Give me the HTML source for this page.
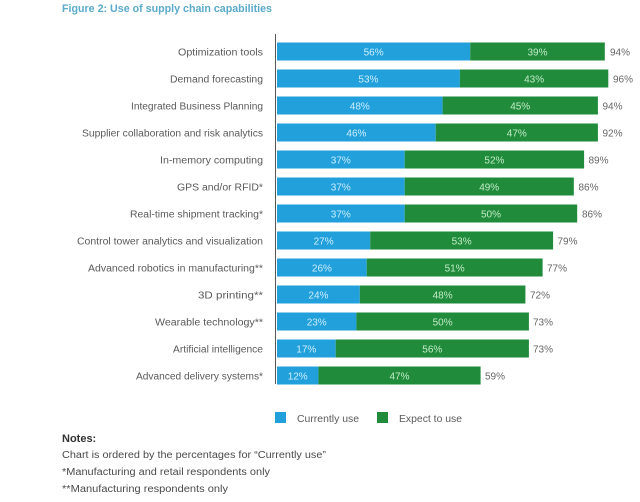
<!DOCTYPE html>
<html><head><meta charset="utf-8"><style>
html,body{margin:0;padding:0;background:#fff;}
svg{display:block;font-family:"Liberation Sans",sans-serif;}
</style></head><body>
<svg width="640" height="502" viewBox="0 0 640 502" xmlns="http://www.w3.org/2000/svg">
<rect width="640" height="502" fill="#fff"/>
<text x="62" y="12" font-size="11" font-weight="bold" fill="#5aaac9" textLength="210" lengthAdjust="spacingAndGlyphs">Figure 2: Use of supply chain capabilities</text>
<line x1="275.5" y1="34" x2="275.5" y2="384" stroke="#555" stroke-width="1"/>
<rect x="275" y="412" width="11" height="11" fill="#22a0dc"/>
<text x="297" y="422" font-size="10" fill="#5a5a5a" textLength="62" lengthAdjust="spacingAndGlyphs">Currently use</text>
<rect x="377" y="412" width="11" height="11" fill="#1f8b3b"/>
<text x="399" y="422" font-size="10" fill="#5a5a5a" textLength="63" lengthAdjust="spacingAndGlyphs">Expect to use</text>
<text x="62" y="442" font-size="11" font-weight="bold" fill="#333">Notes:</text>
<text x="62" y="458" font-size="10" fill="#4a4a4a" textLength="264" lengthAdjust="spacingAndGlyphs">Chart is ordered by the percentages for “Currently use”</text>
<text x="62" y="475" font-size="10" fill="#4a4a4a" textLength="208" lengthAdjust="spacingAndGlyphs">*Manufacturing and retail respondents only</text>
<text x="62" y="492" font-size="10" fill="#4a4a4a" textLength="166" lengthAdjust="spacingAndGlyphs">**Manufacturing respondents only</text>
<g font-size="10">
<text x="263" y="55.5" text-anchor="end" fill="#5a5a5a" textLength="85" lengthAdjust="spacingAndGlyphs">Optimization tools</text>
<rect x="277" y="42.5" width="193.2" height="18" fill="#22a0dc"/><rect x="470.2" y="42.5" width="134.6" height="18" fill="#1f8b3b"/>
<text x="373.6" y="55.5" text-anchor="middle" fill="#cdeefc">56%</text><text x="537.5" y="55.5" text-anchor="middle" fill="#c4ecc8">39%</text><text x="610" y="55.5" fill="#666">94%</text>

<text x="263" y="82.5" text-anchor="end" fill="#5a5a5a" textLength="93" lengthAdjust="spacingAndGlyphs">Demand forecasting</text>
<rect x="277" y="69.5" width="182.9" height="18" fill="#22a0dc"/><rect x="459.9" y="69.5" width="148.4" height="18" fill="#1f8b3b"/>
<text x="368.4" y="82.5" text-anchor="middle" fill="#cdeefc">53%</text><text x="534.1" y="82.5" text-anchor="middle" fill="#c4ecc8">43%</text><text x="613" y="82.5" fill="#666">96%</text>

<text x="263" y="109.5" text-anchor="end" fill="#5a5a5a" textLength="132" lengthAdjust="spacingAndGlyphs">Integrated Business Planning</text>
<rect x="277" y="96.5" width="165.6" height="18" fill="#22a0dc"/><rect x="442.6" y="96.5" width="155.3" height="18" fill="#1f8b3b"/>
<text x="359.8" y="109.5" text-anchor="middle" fill="#cdeefc">48%</text><text x="520.2" y="109.5" text-anchor="middle" fill="#c4ecc8">45%</text><text x="602.5" y="109.5" fill="#666">94%</text>

<text x="263" y="136.5" text-anchor="end" fill="#5a5a5a" textLength="181" lengthAdjust="spacingAndGlyphs">Supplier collaboration and risk analytics</text>
<rect x="277" y="123.5" width="158.7" height="18" fill="#22a0dc"/><rect x="435.7" y="123.5" width="162.2" height="18" fill="#1f8b3b"/>
<text x="356.4" y="136.5" text-anchor="middle" fill="#cdeefc">46%</text><text x="516.8" y="136.5" text-anchor="middle" fill="#c4ecc8">47%</text><text x="602.5" y="136.5" fill="#666">92%</text>

<text x="263" y="163.5" text-anchor="end" fill="#5a5a5a" textLength="103" lengthAdjust="spacingAndGlyphs">In-memory computing</text>
<rect x="277" y="150.5" width="127.7" height="18" fill="#22a0dc"/><rect x="404.7" y="150.5" width="179.4" height="18" fill="#1f8b3b"/>
<text x="340.8" y="163.5" text-anchor="middle" fill="#cdeefc">37%</text><text x="494.4" y="163.5" text-anchor="middle" fill="#c4ecc8">52%</text><text x="588.5" y="163.5" fill="#666">89%</text>

<text x="263" y="190.5" text-anchor="end" fill="#5a5a5a" textLength="86" lengthAdjust="spacingAndGlyphs">GPS and/or RFID*</text>
<rect x="277" y="177.5" width="127.7" height="18" fill="#22a0dc"/><rect x="404.7" y="177.5" width="169.1" height="18" fill="#1f8b3b"/>
<text x="340.8" y="190.5" text-anchor="middle" fill="#cdeefc">37%</text><text x="489.2" y="190.5" text-anchor="middle" fill="#c4ecc8">49%</text><text x="578.5" y="190.5" fill="#666">86%</text>

<text x="263" y="217.5" text-anchor="end" fill="#5a5a5a" textLength="133" lengthAdjust="spacingAndGlyphs">Real-time shipment tracking*</text>
<rect x="277" y="204.5" width="127.7" height="18" fill="#22a0dc"/><rect x="404.7" y="204.5" width="172.5" height="18" fill="#1f8b3b"/>
<text x="340.8" y="217.5" text-anchor="middle" fill="#cdeefc">37%</text><text x="491" y="217.5" text-anchor="middle" fill="#c4ecc8">50%</text><text x="582" y="217.5" fill="#666">86%</text>

<text x="263" y="244.5" text-anchor="end" fill="#5a5a5a" textLength="186" lengthAdjust="spacingAndGlyphs">Control tower analytics and visualization</text>
<rect x="277" y="231.5" width="93.2" height="18" fill="#22a0dc"/><rect x="370.2" y="231.5" width="182.9" height="18" fill="#1f8b3b"/>
<text x="323.6" y="244.5" text-anchor="middle" fill="#cdeefc">27%</text><text x="461.6" y="244.5" text-anchor="middle" fill="#c4ecc8">53%</text><text x="557.5" y="244.5" fill="#666">79%</text>

<text x="263" y="271.5" text-anchor="end" fill="#5a5a5a" textLength="175" lengthAdjust="spacingAndGlyphs">Advanced robotics in manufacturing**</text>
<rect x="277" y="258.5" width="89.7" height="18" fill="#22a0dc"/><rect x="366.7" y="258.5" width="175.9" height="18" fill="#1f8b3b"/>
<text x="321.9" y="271.5" text-anchor="middle" fill="#cdeefc">26%</text><text x="454.6" y="271.5" text-anchor="middle" fill="#c4ecc8">51%</text><text x="547" y="271.5" fill="#666">77%</text>

<text x="263" y="298.5" text-anchor="end" fill="#5a5a5a" textLength="65" lengthAdjust="spacingAndGlyphs">3D printing**</text>
<rect x="277" y="285.5" width="82.8" height="18" fill="#22a0dc"/><rect x="359.8" y="285.5" width="165.6" height="18" fill="#1f8b3b"/>
<text x="318.4" y="298.5" text-anchor="middle" fill="#cdeefc">24%</text><text x="442.6" y="298.5" text-anchor="middle" fill="#c4ecc8">48%</text><text x="530" y="298.5" fill="#666">72%</text>

<text x="263" y="325.5" text-anchor="end" fill="#5a5a5a" textLength="108" lengthAdjust="spacingAndGlyphs">Wearable technology**</text>
<rect x="277" y="312.5" width="79.4" height="18" fill="#22a0dc"/><rect x="356.4" y="312.5" width="172.5" height="18" fill="#1f8b3b"/>
<text x="316.7" y="325.5" text-anchor="middle" fill="#cdeefc">23%</text><text x="442.6" y="325.5" text-anchor="middle" fill="#c4ecc8">50%</text><text x="533" y="325.5" fill="#666">73%</text>

<text x="263" y="352.5" text-anchor="end" fill="#5a5a5a" textLength="90" lengthAdjust="spacingAndGlyphs">Artificial intelligence</text>
<rect x="277" y="339.5" width="58.7" height="18" fill="#22a0dc"/><rect x="335.7" y="339.5" width="193.2" height="18" fill="#1f8b3b"/>
<text x="306.3" y="352.5" text-anchor="middle" fill="#cdeefc">17%</text><text x="432.3" y="352.5" text-anchor="middle" fill="#c4ecc8">56%</text><text x="533" y="352.5" fill="#666">73%</text>

<text x="263" y="379.5" text-anchor="end" fill="#5a5a5a" textLength="127" lengthAdjust="spacingAndGlyphs">Advanced delivery systems*</text>
<rect x="277" y="366.5" width="41.4" height="18" fill="#22a0dc"/><rect x="318.4" y="366.5" width="162.2" height="18" fill="#1f8b3b"/>
<text x="297.7" y="379.5" text-anchor="middle" fill="#cdeefc">12%</text><text x="399.5" y="379.5" text-anchor="middle" fill="#c4ecc8">47%</text><text x="485" y="379.5" fill="#666">59%</text>
</g>
</svg>
</body></html>
